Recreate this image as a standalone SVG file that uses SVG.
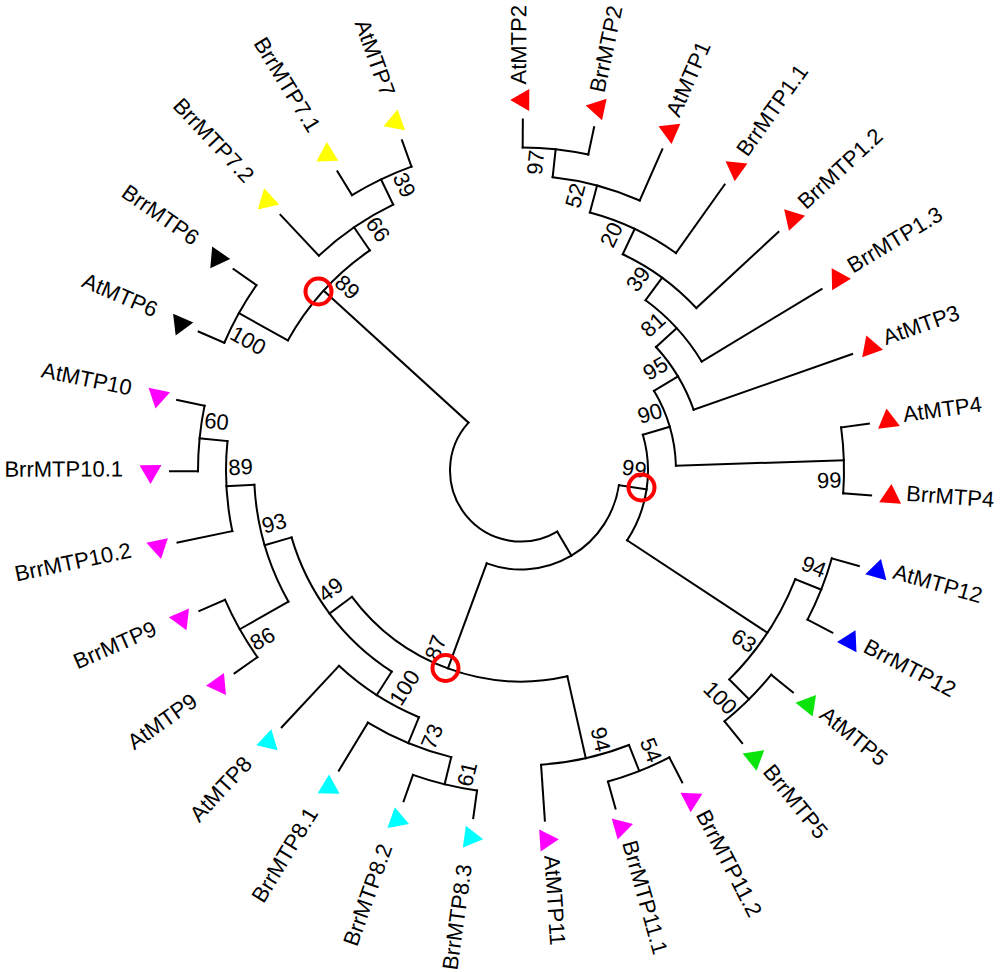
<svg xmlns="http://www.w3.org/2000/svg" xmlns:xlink="http://www.w3.org/1999/xlink" width="1000" height="972" viewBox="0 0 1000 972">
<style>
.br{fill:none;stroke:#000;stroke-width:2;stroke-linecap:square}
.lf{font-family:"Liberation Sans",Arial,sans-serif;font-size:22px;fill:#000}
.bs{font-family:"Liberation Sans",Arial,sans-serif;font-size:22px;fill:#000}
.hl{fill:none;stroke:#f00;stroke-width:4}
.r{fill:#f00}.y{fill:#ff0}.k{fill:#000}.m{fill:#f0f}.c{fill:#0ff}.b{fill:#00f}.g{fill:#0be40b}
</style>
<defs>
<polygon id="tri" points="370.5,-12.7 359.5,6.3 381.5,6.3"/>
<path id="a323" d="M323 0A323 323 0 0 1 316.27 65.61"/>
<path id="a295" d="M295 0A295 295 0 0 1 281.22 89.1"/>
</defs>
<rect width="1000" height="972" fill="#fff"/>
<g id="connectors" class="br" transform="translate(521 470.5)">
<use xlink:href="#a323" transform="rotate(-89.7)"/>
<use xlink:href="#a295" transform="rotate(-83.84)"/>
<path d="M267 0A267 267 0 0 1 250.08 93.55" transform="rotate(-75.05)"/>
<path d="M239 0A239 239 0 0 1 221.64 89.43" transform="rotate(-64.795)"/>
<path d="M211 0A211 211 0 0 1 194.64 81.46" transform="rotate(-53.81)"/>
<path d="M183 0A183 183 0 0 1 168.36 71.72" transform="rotate(-42.455)"/>
<use xlink:href="#a323" transform="rotate(-7.66)"/>
<path d="M155 0A155 155 0 0 1 135.41 75.43" transform="rotate(-30.92)"/>
<use xlink:href="#a323" transform="rotate(15.78)"/>
<use xlink:href="#a323" transform="rotate(39.22)"/>
<path d="M295 0A295 295 0 0 1 270.66 117.35" transform="rotate(21.64)"/>
<path d="M127 0A127 127 0 0 1 82.11 96.89" transform="rotate(-16.36)"/>
<use xlink:href="#a323" transform="rotate(62.66)"/>
<use xlink:href="#a295" transform="rotate(68.52)"/>
<use xlink:href="#a323" transform="rotate(97.82)"/>
<use xlink:href="#a295" transform="rotate(103.68)"/>
<path d="M267 0A267 267 0 0 1 250.08 93.55" transform="rotate(112.47)"/>
<use xlink:href="#a323" transform="rotate(144.7)"/>
<use xlink:href="#a323" transform="rotate(179.86)"/>
<use xlink:href="#a295" transform="rotate(168.14)"/>
<path d="M267 0A267 267 0 0 1 239.22 118.59" transform="rotate(150.56)"/>
<path d="M239 0A239 239 0 0 1 180.32 156.86" transform="rotate(122.725)"/>
<path d="M211 0A211 211 0 0 1 86.08 192.65" transform="rotate(77.31)"/>
<path d="M99 0A99 99 0 0 1 -20.19 96.92" transform="rotate(8.5)"/>
<use xlink:href="#a323" transform="rotate(203.3)"/>
<use xlink:href="#a323" transform="rotate(238.46)"/>
<use xlink:href="#a295" transform="rotate(226.74)"/>
<path d="M267 0A267 267 0 0 1 239.22 118.59" transform="rotate(209.16)"/>
<path d="M71 0A71 71 0 0 1 -67.88 20.81" transform="rotate(59.386)"/>
<path d="M295 0H323" transform="rotate(-83.84)"/>
<path d="M267 0H295" transform="rotate(-75.05)"/>
<path d="M239 0H267" transform="rotate(-64.795)"/>
<path d="M211 0H239" transform="rotate(-53.81)"/>
<path d="M183 0H211" transform="rotate(-42.455)"/>
<path d="M155 0H183" transform="rotate(-30.92)"/>
<path d="M155 0H323" transform="rotate(-1.8)"/>
<path d="M127 0H155" transform="rotate(-16.36)"/>
<path d="M295 0H323" transform="rotate(21.64)"/>
<path d="M295 0H323" transform="rotate(45.08)"/>
<path d="M127 0H295" transform="rotate(33.36)"/>
<path d="M99 0H127" transform="rotate(8.5)"/>
<path d="M295 0H323" transform="rotate(68.52)"/>
<path d="M211 0H295" transform="rotate(77.31)"/>
<path d="M295 0H323" transform="rotate(103.68)"/>
<path d="M267 0H295" transform="rotate(112.47)"/>
<path d="M239 0H267" transform="rotate(122.725)"/>
<path d="M267 0H323" transform="rotate(150.56)"/>
<path d="M295 0H323" transform="rotate(185.72)"/>
<path d="M267 0H295" transform="rotate(176.93)"/>
<path d="M239 0H267" transform="rotate(163.745)"/>
<path d="M211 0H239" transform="rotate(143.235)"/>
<path d="M99 0H211" transform="rotate(110.2725)"/>
<path d="M71 0H99" transform="rotate(59.386)"/>
<path d="M267 0H323" transform="rotate(209.16)"/>
<path d="M295 0H323" transform="rotate(244.32)"/>
<path d="M267 0H295" transform="rotate(235.53)"/>
<path d="M71 0H267" transform="rotate(222.345)"/>
<path d="M323 0H351" transform="rotate(-89.7)"/>
<path d="M323 0H351" transform="rotate(-77.98)"/>
<path d="M295 0H351" transform="rotate(-66.26)"/>
<path d="M267 0H351" transform="rotate(-54.54)"/>
<path d="M239 0H351" transform="rotate(-42.82)"/>
<path d="M211 0H351" transform="rotate(-31.1)"/>
<path d="M183 0H351" transform="rotate(-19.38)"/>
<path d="M323 0H351" transform="rotate(-7.66)"/>
<path d="M323 0H351" transform="rotate(4.06)"/>
<path d="M323 0H351" transform="rotate(15.78)"/>
<path d="M323 0H351" transform="rotate(27.5)"/>
<path d="M323 0H351" transform="rotate(39.22)"/>
<path d="M323 0H351" transform="rotate(50.94)"/>
<path d="M323 0H351" transform="rotate(62.66)"/>
<path d="M323 0H351" transform="rotate(74.38)"/>
<path d="M295 0H351" transform="rotate(86.1)"/>
<path d="M323 0H351" transform="rotate(97.82)"/>
<path d="M323 0H351" transform="rotate(109.54)"/>
<path d="M295 0H351" transform="rotate(121.26)"/>
<path d="M267 0H351" transform="rotate(132.98)"/>
<path d="M323 0H351" transform="rotate(144.7)"/>
<path d="M323 0H351" transform="rotate(156.42)"/>
<path d="M295 0H351" transform="rotate(168.14)"/>
<path d="M323 0H351" transform="rotate(179.86)"/>
<path d="M323 0H351" transform="rotate(191.58)"/>
<path d="M323 0H351" transform="rotate(203.3)"/>
<path d="M323 0H351" transform="rotate(215.02)"/>
<path d="M295 0H351" transform="rotate(226.74)"/>
<path d="M323 0H351" transform="rotate(238.46)"/>
<path d="M323 0H351" transform="rotate(250.18)"/>
</g>
<g id="leaves">
<g id="AtMTP2" transform="translate(521 470.5) rotate(-89.7)"><use xlink:href="#tri" class="r"/><text class="lf" x="386" y="3">AtMTP2</text></g>
<g id="BrrMTP2" transform="translate(521 470.5) rotate(-77.98)"><use xlink:href="#tri" class="r"/><text class="lf" x="386" y="3">BrrMTP2</text></g>
<g id="AtMTP1" transform="translate(521 470.5) rotate(-66.26)"><use xlink:href="#tri" class="r"/><text class="lf" x="386" y="3">AtMTP1</text></g>
<g id="BrrMTP1_1" transform="translate(521 470.5) rotate(-54.54)"><use xlink:href="#tri" class="r"/><text class="lf" x="386" y="3">BrrMTP1.1</text></g>
<g id="BrrMTP1_2" transform="translate(521 470.5) rotate(-42.82)"><use xlink:href="#tri" class="r"/><text class="lf" x="386" y="3">BrrMTP1.2</text></g>
<g id="BrrMTP1_3" transform="translate(521 470.5) rotate(-31.1)"><use xlink:href="#tri" class="r"/><text class="lf" x="386" y="3">BrrMTP1.3</text></g>
<g id="AtMTP3" transform="translate(521 470.5) rotate(-19.38)"><use xlink:href="#tri" class="r"/><text class="lf" x="386" y="3">AtMTP3</text></g>
<g id="AtMTP4" transform="translate(521 470.5) rotate(-7.66)"><use xlink:href="#tri" class="r"/><text class="lf" x="386" y="3">AtMTP4</text></g>
<g id="BrrMTP4" transform="translate(521 470.5) rotate(4.06)"><use xlink:href="#tri" class="r"/><text class="lf" x="386" y="3">BrrMTP4</text></g>
<g id="AtMTP12" transform="translate(521 470.5) rotate(15.78)"><use xlink:href="#tri" class="b"/><text class="lf" x="386" y="3">AtMTP12</text></g>
<g id="BrrMTP12" transform="translate(521 470.5) rotate(27.5)"><use xlink:href="#tri" class="b"/><text class="lf" x="386" y="3">BrrMTP12</text></g>
<g id="AtMTP5" transform="translate(521 470.5) rotate(39.22)"><use xlink:href="#tri" class="g"/><text class="lf" x="386" y="3">AtMTP5</text></g>
<g id="BrrMTP5" transform="translate(521 470.5) rotate(50.94)"><use xlink:href="#tri" class="g"/><text class="lf" x="386" y="3">BrrMTP5</text></g>
<g id="BrrMTP11_2" transform="translate(521 470.5) rotate(62.66)"><use xlink:href="#tri" class="m"/><text class="lf" x="386" y="3">BrrMTP11.2</text></g>
<g id="BrrMTP11_1" transform="translate(521 470.5) rotate(74.38)"><use xlink:href="#tri" class="m"/><text class="lf" x="386" y="3">BrrMTP11.1</text></g>
<g id="AtMTP11" transform="translate(521 470.5) rotate(86.1)"><use xlink:href="#tri" class="m"/><text class="lf" x="386" y="3">AtMTP11</text></g>
<g id="BrrMTP8_3" transform="translate(521 470.5) rotate(97.82)"><use xlink:href="#tri" class="c"/><text class="lf" transform="rotate(180)" x="-398" y="5" text-anchor="end">BrrMTP8.3</text></g>
<g id="BrrMTP8_2" transform="translate(521 470.5) rotate(109.54)"><use xlink:href="#tri" class="c"/><text class="lf" transform="rotate(180)" x="-398" y="5" text-anchor="end">BrrMTP8.2</text></g>
<g id="BrrMTP8_1" transform="translate(521 470.5) rotate(121.26)"><use xlink:href="#tri" class="c"/><text class="lf" transform="rotate(180)" x="-398" y="5" text-anchor="end">BrrMTP8.1</text></g>
<g id="AtMTP8" transform="translate(521 470.5) rotate(132.98)"><use xlink:href="#tri" class="c"/><text class="lf" transform="rotate(180)" x="-398" y="5" text-anchor="end">AtMTP8</text></g>
<g id="AtMTP9" transform="translate(521 470.5) rotate(144.7)"><use xlink:href="#tri" class="m"/><text class="lf" transform="rotate(180)" x="-398" y="5" text-anchor="end">AtMTP9</text></g>
<g id="BrrMTP9" transform="translate(521 470.5) rotate(156.42)"><use xlink:href="#tri" class="m"/><text class="lf" transform="rotate(180)" x="-398" y="5" text-anchor="end">BrrMTP9</text></g>
<g id="BrrMTP10_2" transform="translate(521 470.5) rotate(168.14)"><use xlink:href="#tri" class="m"/><text class="lf" transform="rotate(180)" x="-398" y="5" text-anchor="end">BrrMTP10.2</text></g>
<g id="BrrMTP10_1" transform="translate(521 470.5) rotate(179.86)"><use xlink:href="#tri" class="m"/><text class="lf" transform="rotate(180)" x="-398" y="5" text-anchor="end">BrrMTP10.1</text></g>
<g id="AtMTP10" transform="translate(521 470.5) rotate(191.58)"><use xlink:href="#tri" class="m"/><text class="lf" transform="rotate(180)" x="-398" y="5" text-anchor="end">AtMTP10</text></g>
<g id="AtMTP6" transform="translate(521 470.5) rotate(203.3)"><use xlink:href="#tri" class="k"/><text class="lf" transform="rotate(180)" x="-398" y="5" text-anchor="end">AtMTP6</text></g>
<g id="BrrMTP6" transform="translate(521 470.5) rotate(215.02)"><use xlink:href="#tri" class="k"/><text class="lf" transform="rotate(180)" x="-398" y="5" text-anchor="end">BrrMTP6</text></g>
<g id="BrrMTP7_2" transform="translate(521 470.5) rotate(226.74)"><use xlink:href="#tri" class="y"/><text class="lf" transform="rotate(180)" x="-398" y="5" text-anchor="end">BrrMTP7.2</text></g>
<g id="BrrMTP7_1" transform="translate(521 470.5) rotate(238.46)"><use xlink:href="#tri" class="y"/><text class="lf" transform="rotate(180)" x="-398" y="5" text-anchor="end">BrrMTP7.1</text></g>
<g id="AtMTP7" transform="translate(521 470.5) rotate(250.18)"><use xlink:href="#tri" class="y"/><text class="lf" transform="rotate(180)" x="-398" y="5" text-anchor="end">AtMTP7</text></g>
</g>
<g id="bootstrap">
<g id="n97" transform="translate(521 470.5) rotate(-83.84)"><text class="bs" x="320" y="-11" text-anchor="end">97</text></g>
<g id="n52" transform="translate(521 470.5) rotate(-75.05)"><text class="bs" x="292" y="-11" text-anchor="end">52</text></g>
<g id="n20" transform="translate(521 470.5) rotate(-64.795)"><text class="bs" x="264" y="-11" text-anchor="end">20</text></g>
<g id="n39a" transform="translate(521 470.5) rotate(-53.81)"><text class="bs" x="236" y="-11" text-anchor="end">39</text></g>
<g id="n81" transform="translate(521 470.5) rotate(-42.455)"><text class="bs" x="208" y="-11" text-anchor="end">81</text></g>
<g id="n95" transform="translate(521 470.5) rotate(-30.92)"><text class="bs" x="180" y="-11" text-anchor="end">95</text></g>
<g id="n90" transform="translate(521 470.5) rotate(-16.36)"><text class="bs" x="152" y="-11" text-anchor="end">90</text></g>
<g id="n99a" transform="translate(521 470.5) rotate(-1.8)"><text class="bs" x="320" y="27" text-anchor="end">99</text></g>
<g id="n99b" transform="translate(521 470.5) rotate(8.5)"><text class="bs" x="124" y="-11" text-anchor="end">99</text></g>
<g id="n94a" transform="translate(521 470.5) rotate(21.64)"><text class="bs" x="320" y="-11" text-anchor="end">94</text></g>
<g id="n63" transform="translate(521 470.5) rotate(33.36)"><text class="bs" x="292" y="27" text-anchor="end">63</text></g>
<g id="n100c" transform="translate(521 470.5) rotate(45.08)"><text class="bs" x="320" y="27" text-anchor="end">100</text></g>
<g id="n54" transform="translate(521 470.5) rotate(68.52)"><text class="bs" x="320" y="-11" text-anchor="end">54</text></g>
<g id="n94b" transform="translate(521 470.5) rotate(77.31)"><text class="bs" x="292" y="-11" text-anchor="end">94</text></g>
<g id="n87" transform="translate(521 470.5) rotate(290.2725)"><text class="bs" x="-208" y="-11">87</text></g>
<g id="n61" transform="translate(521 470.5) rotate(283.68)"><text class="bs" x="-320" y="27">61</text></g>
<g id="n73" transform="translate(521 470.5) rotate(292.47)"><text class="bs" x="-292" y="27">73</text></g>
<g id="n100b" transform="translate(521 470.5) rotate(302.725)"><text class="bs" x="-264" y="27">100</text></g>
<g id="n49" transform="translate(521 470.5) rotate(323.235)"><text class="bs" x="-236" y="-11">49</text></g>
<g id="n86" transform="translate(521 470.5) rotate(330.56)"><text class="bs" x="-320" y="27">86</text></g>
<g id="n93" transform="translate(521 470.5) rotate(343.745)"><text class="bs" x="-264" y="-11">93</text></g>
<g id="n89b" transform="translate(521 470.5) rotate(356.93)"><text class="bs" x="-292" y="-11">89</text></g>
<g id="n60" transform="translate(521 470.5) rotate(365.72)"><text class="bs" x="-320" y="-11">60</text></g>
<g id="n100a" transform="translate(521 470.5) rotate(389.16)"><text class="bs" x="-320" y="27">100</text></g>
<g id="n89a" transform="translate(521 470.5) rotate(402.345)"><text class="bs" x="-264" y="-11">89</text></g>
<g id="n66" transform="translate(521 470.5) rotate(415.53)"><text class="bs" x="-292" y="-11">66</text></g>
<g id="n39b" transform="translate(521 470.5) rotate(424.32)"><text class="bs" x="-320" y="-11">39</text></g>
</g>
<g id="highlights" class="hl">
<circle cx="318.5" cy="291.5" r="13"/>
<circle cx="641.5" cy="487.5" r="13"/>
<circle cx="445.5" cy="668" r="13"/>
</g>
</svg>
